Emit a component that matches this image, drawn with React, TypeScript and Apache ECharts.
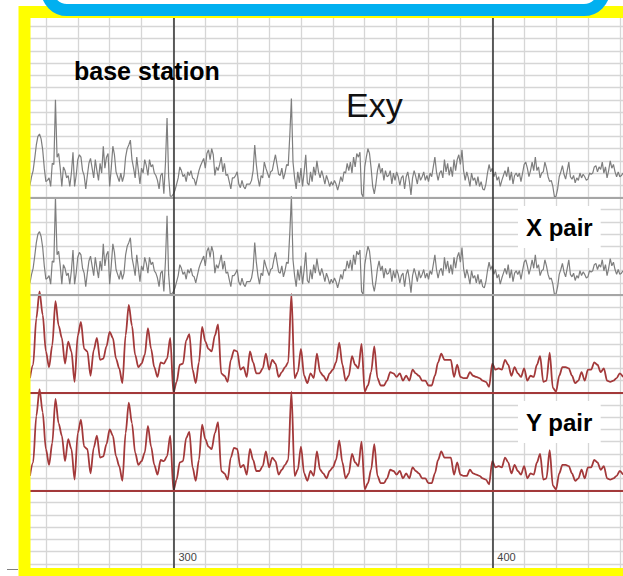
import React, { useEffect, useRef } from "react";
import * as echarts from "echarts";

// Horizontal axis (sample index) range and the two labelled reference marks
const X_MIN = 250;
const X_MAX = 441;
const X_GRID_STEP = 10;
const MAJOR_TICKS = [300, 400];

// Vertical axis is measured in grid rows; each trace sits on its own baseline row
const Y_ROWS = 46;
const GRAY_BASELINES = [31, 23];
const RED_BASELINES = [15, 7];

// Traces start at the same sample; gray is sampled every half step, red every step
const TRACE_START = 255;
const GRAY_STEP = 0.5;
const RED_STEP = 1;

// Base station Exy amplitude (rows above baseline)
const grayTrace = [
  1.0, 1.7, 2.2, 3.2, 4.3, 5.0, 5.2, 4.8, 3.9, 2.4,
  1.3, 1.4, 1.6, 0.9, 2.8, 2.7, 8.0, 3.3, 3.6, 2.4,
  0.9, 2.5, 2.2, 1.6, 1.8, 0.9, 2.0, 3.7, 0.9, 1.8,
  3.1, 3.5, 3.3, 2.2, 1.8, 0.7, 1.8, 2.8, 3.2, 2.4,
  1.6, 3.1, 2.2, 1.4, 2.8, 2.0, 4.2, 2.4, 3.3, 3.6,
  0.9, 2.4, 4.2, 3.5, 2.1, 1.7, 1.3, 2.0, 1.3, 1.8,
  3.3, 4.0, 4.3, 4.7, 3.1, 2.4, 1.6, 3.3, 2.2, 1.1,
  2.4, 2.0, 3.1, 2.6, 1.8, 3.1, 2.5, 2.7, 2.0, 1.8,
  1.4, 0.7, 1.8, 2.0, 0.3, 2.8, 6.5, 1.7, 0.1, 0.1,
  0.3, 0.6, 1.1, 1.6, 2.5, 2.2, 1.7, 1.9, 1.3, 2.1,
  1.8, 2.2, 1.6, 1.5, 1.0, 1.6, 2.2, 2.6, 2.9, 3.2,
  2.4, 3.6, 3.9, 3.1, 4.0, 3.5, 1.8, 2.5, 2.2, 2.7,
  3.3, 2.1, 2.8, 1.8, 1.9, 1.3, 0.7, 1.6, 1.6, 1.8,
  2.1, 1.1, 0.8, 1.4, 0.9, 0.7, 1.1, 1.1, 1.1, 1.4,
  2.2, 4.3, 2.7, 1.6, 0.9, 1.8, 1.6, 2.9, 2.4, 2.0,
  1.6, 2.1, 2.2, 2.9, 3.5, 2.7, 1.9, 1.8, 2.4, 1.5,
  2.0, 2.7, 2.6, 5.1, 8.1, 2.9, 1.6, 0.7, 2.1, 1.2,
  2.4, 0.9, 2.1, 3.5, 1.2, 1.0, 2.1, 1.3, 2.5, 1.8,
  3.0, 2.1, 1.6, 2.2, 1.7, 1.1, 1.8, 1.4, 0.9, 1.3,
  1.0, 1.4, 1.1, 0.6, 1.1, 1.7, 1.3, 2.1, 2.0, 2.8,
  2.2, 2.9, 2.0, 3.3, 2.5, 3.6, 3.3, 3.7, 0.3, 0.05,
  2.5, 3.3, 4.0, 3.6, 2.4, 0.9, 0.3, 1.1, 2.2, 2.8,
  2.0, 2.4, 1.4, 2.2, 1.7, 1.8, 2.2, 1.1, 2.0, 1.4,
  2.1, 1.7, 1.0, 1.6, 1.8, 0.7, 1.7, 2.1, 1.3, 0.2,
  1.6, 2.2, 1.7, 1.1, 2.0, 1.4, 1.7, 2.1, 1.4, 1.8,
  1.3, 2.0, 1.7, 2.5, 3.3, 2.1, 1.4, 2.0, 2.2, 1.6,
  3.1, 2.1, 2.8, 1.8, 2.5, 1.7, 3.1, 2.2, 3.1, 3.5,
  2.7, 3.9, 2.2, 1.4, 2.1, 1.6, 0.9, 2.0, 1.4, 1.6,
  1.0, 1.7, 0.9, 1.3, 0.7, 0.6, 1.1, 2.0, 2.7, 2.1,
  2.4, 1.7, 2.1, 1.4, 1.7, 0.9, 1.4, 1.8, 2.2, 1.7,
  2.5, 1.4, 2.1, 1.1, 1.8, 2.0, 1.7, 2.0, 1.3, 2.0,
  2.7, 2.9, 2.4, 1.7, 2.2, 2.9, 2.2, 3.3, 2.2, 2.5,
  1.6, 2.0, 2.1, 2.9, 2.4, 1.7, 1.3, 1.4, 0.9, 0.05,
  0.1, 0.7, 1.7, 2.1, 2.6, 1.9, 1.5, 2.2, 2.9, 1.7,
  1.5, 1.8, 1.2, 1.6, 1.4, 2.0, 1.6, 1.9, 1.7, 1.4,
  1.5, 2.0, 1.9, 2.0, 2.5, 2.6, 2.1, 2.5, 2.3, 2.9,
  2.0, 2.5, 1.6, 2.2, 3.0, 2.4, 2.7, 2.1, 1.7, 2.1,
  1.7, 1.8, 2.0,
];

// X / Y pair Exy amplitude (rows above baseline)
const redTrace = [
  1.2, 2.3, 6.1, 8.3, 6.4, 3.4, 2.1, 3.9, 7.5, 5.5,
  4.5, 2.4, 4.2, 3.4, 0.9, 4.7, 5.8, 3.6, 3.4, 1.4,
  3.5, 4.5, 2.7, 2.8, 3.8, 5.0, 4.5, 2.8, 2.0, 0.8,
  4.7, 7.2, 5.5, 3.1, 2.1, 2.4, 3.1, 5.3, 3.6, 2.1,
  1.3, 2.5, 2.4, 2.8, 4.5, 0.0, 0.9, 2.3, 2.4, 4.3,
  4.8, 1.9, 0.8, 2.5, 5.4, 4.2, 3.6, 3.4, 4.7, 5.6,
  1.6, 1.4, 0.9, 2.7, 3.5, 3.4, 1.9, 2.1, 1.3, 3.4,
  2.5, 1.6, 1.6, 2.0, 3.2, 1.9, 2.7, 2.4, 1.3, 1.7,
  2.1, 2.5, 8.1, 1.2, 1.7, 3.6, 1.4, 0.8, 1.6, 1.2,
  3.2, 1.7, 1.4, 1.0, 1.6, 1.9, 2.5, 4.1, 2.3, 1.0,
  1.4, 3.0, 2.3, 2.0, 4.0, 0.1, 0.6, 1.7, 3.8, 1.2,
  0.6, 0.6, 1.0, 1.7, 1.6, 1.3, 1.6, 1.0, 1.4, 1.0,
  1.9, 1.6, 1.4, 1.0, 1.0, 0.6, 0.6, 1.4, 2.5, 3.2,
  2.7, 2.7, 2.7, 1.3, 2.3, 1.3, 1.2, 1.2, 1.7, 1.4,
  1.3, 1.2, 1.0, 0.9, 0.5, 2.4, 1.9, 2.0, 1.9, 2.7,
  2.3, 1.4, 2.1, 1.6, 1.3, 2.0, 1.0, 1.4, 1.3, 2.3,
  3.0, 0.9, 1.0, 3.3, 0.4, 0.1, 1.4, 2.1, 2.1, 2.0,
  1.4, 0.8, 1.0, 1.7, 1.0, 1.9, 1.9, 2.5, 2.3, 1.7,
  2.0, 1.0, 0.9, 1.0, 1.2, 1.6, 1.3,
];

const TITLE = "Exy";
const STATION_LABEL = "base station";
const PAIR_LABELS = ["X pair", "Y pair"];

const GRAY = "#7e7e7e";
const GRAY_BASE = "#a6a6a6";
const RED = "#a3393a";
const GRID = "#d6d6d6";
const FONT = "'Liberation Sans', Arial, sans-serif";

function toPoints(values: number[], step: number, base: number) {
  return values.map((v, i) => [TRACE_START + i * step, base + v]);
}

function traceSeries(
  name: string,
  values: number[],
  step: number,
  base: number,
  color: string,
  width: number,
  baseColor: string,
  smooth: number,
  extraMarks: any[] = []
) {
  return {
    name,
    type: "line",
    data: toPoints(values, step, base),
    showSymbol: false,
    symbol: "none",
    silent: true,
    smooth,
    smoothMonotone: "x",
    lineStyle: { color, width },
    z: 3,
    markLine: {
      silent: true,
      symbol: "none",
      label: { show: false },
      lineStyle: { color: baseColor, width: 2, type: "solid" },
      data: [{ yAxis: base }, ...extraMarks],
    },
  };
}

export default function App() {
  const ref = useRef<HTMLDivElement>(null);

  useEffect(() => {
    if (!ref.current) return;
    const chart = echarts.init(ref.current, null, { renderer: "svg" });

    const majorMarks = MAJOR_TICKS.map((t) => ({
      xAxis: t,
      lineStyle: { color: "#2e2e2e", width: 1.5, type: "solid" },
    }));

    const option: any = {
      animation: false,
      backgroundColor: "#ffffff",
      grid: { left: 14, right: 0, top: 14.3, bottom: 0, containLabel: false },
      xAxis: {
        type: "value",
        min: X_MIN,
        max: X_MAX,
        interval: X_GRID_STEP,
        axisLine: { show: false },
        axisTick: { show: false },
        splitLine: { show: true, lineStyle: { color: GRID, width: 1.3 } },
        axisLabel: {
          inside: true,
          margin: 14,
          align: "left",
          padding: [0, 0, 0, 5],
          fontSize: 11,
          fontFamily: FONT,
          color: "#444",
          showMinLabel: false,
          showMaxLabel: false,
          formatter: (v: number) => (MAJOR_TICKS.includes(v) ? String(v) : ""),
        },
      },
      yAxis: {
        type: "value",
        min: 0,
        max: Y_ROWS,
        interval: 1,
        axisLine: { show: false },
        axisTick: { show: false },
        axisLabel: { show: false },
        splitLine: { show: true, lineStyle: { color: GRID, width: 1.3 } },
      },
      series: [
        traceSeries("base station", grayTrace, GRAY_STEP, GRAY_BASELINES[0], GRAY, 1.2, GRAY_BASE, 0, majorMarks),
        traceSeries("base station copy", grayTrace, GRAY_STEP, GRAY_BASELINES[1], GRAY, 1.2, GRAY_BASE, 0),
        traceSeries("X pair", redTrace, RED_STEP, RED_BASELINES[0], RED, 1.8, RED, 0.3),
        traceSeries("Y pair", redTrace, RED_STEP, RED_BASELINES[1], RED, 1.8, RED, 0.3),
      ],
      graphic: [
        // blank margin left of the frame
        { type: "rect", z: 100, shape: { x: 0, y: 0, width: 21, height: 576 }, style: { fill: "#ffffff" } },
        // yellow frame
        {
          type: "rect",
          z: 101,
          shape: { x: 24.5, y: 12, width: 700, height: 562 },
          style: { fill: "none", stroke: "#ffff00", lineWidth: 12 },
        },
        // blue rounded outline at the top
        {
          type: "rect",
          z: 102,
          shape: { x: 47, y: -50, width: 557, height: 60, r: 20 },
          style: { fill: "#ffffff", stroke: "#00b0f0", lineWidth: 12 },
        },
        // short tick outside the frame
        {
          type: "line",
          z: 102,
          shape: { x1: 7, y1: 569.5, x2: 18, y2: 569.5 },
          style: { stroke: "#808080", lineWidth: 1 },
        },
        {
          type: "text",
          z: 50,
          x: 74,
          y: 71,
          style: {
            text: STATION_LABEL,
            fontSize: 25,
            fontWeight: "bold",
            fontFamily: FONT,
            fill: "#000",
            align: "left",
            verticalAlign: "middle",
          },
        },
        {
          type: "text",
          z: 50,
          x: 346,
          y: 105,
          style: {
            text: TITLE,
            fontSize: 34,
            fontFamily: FONT,
            fill: "#111",
            align: "left",
            verticalAlign: "middle",
          },
        },
        {
          type: "text",
          z: 50,
          x: 518,
          y: 227,
          style: {
            text: PAIR_LABELS[0],
            fontSize: 24,
            fontWeight: "bold",
            fontFamily: FONT,
            fill: "#000",
            align: "left",
            verticalAlign: "middle",
            backgroundColor: "#ffffff",
            padding: [9, 8, 9, 8],
          },
        },
        {
          type: "text",
          z: 50,
          x: 518,
          y: 422,
          style: {
            text: PAIR_LABELS[1],
            fontSize: 24,
            fontWeight: "bold",
            fontFamily: FONT,
            fill: "#000",
            align: "left",
            verticalAlign: "middle",
            backgroundColor: "#ffffff",
            padding: [9, 8, 9, 8],
          },
        },
      ],
    };

    chart.setOption(option);
    return () => chart.dispose();
  }, []);

  return (
    <div
      ref={ref}
      style={{ position: "absolute", left: 0, top: 0, width: 623, height: 576, background: "#fff" }}
    />
  );
}
